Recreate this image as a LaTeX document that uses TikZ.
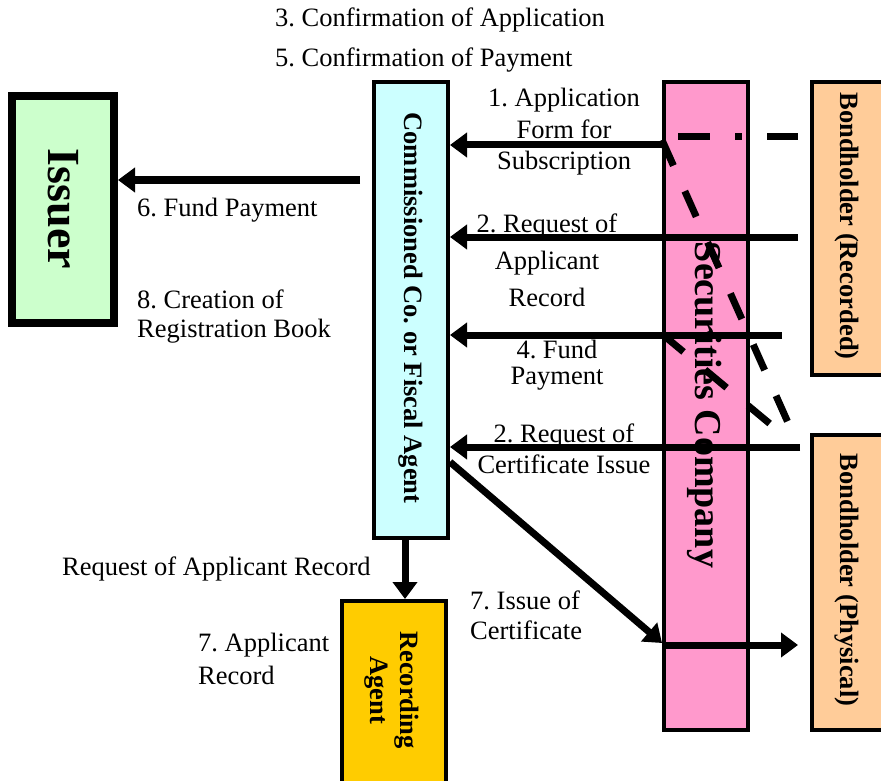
\documentclass[tikz,border=0pt]{standalone}
\usepackage{fontspec}
\setmainfont{Liberation Serif}
\frenchspacing
\usetikzlibrary{arrows.meta}
\definecolor{issuergreen}{HTML}{CCFFCC}
\definecolor{agentcyan}{HTML}{CCFFFF}
\definecolor{secpink}{HTML}{FF99CC}
\definecolor{holderpeach}{HTML}{FFCC99}
\definecolor{recgold}{HTML}{FFCC00}
\begin{document}
\begin{tikzpicture}[x=1pt,y=-1pt,
  box/.style={draw=black, line width=4pt, inner sep=0pt},
  flow/.style={line width=7pt, -{Triangle[length=17pt,width=24pt]}},
  dashdiag/.style={line width=7pt, dash pattern=on 28pt off 28pt},
  dashdot/.style={line width=7pt, dash pattern=on 32pt off 25pt on 7pt off 25pt},
  lab/.style={inner sep=0pt, font=\fontsize{26.5}{31}\selectfont},
  boxtext/.style={inner sep=0pt, rotate=-90, font=\bfseries\fontsize{26.5}{30}\selectfont}]
\useasboundingbox (0,0) rectangle (881,781);
\begin{scope}
\clip (0,0) rectangle (881,781);

% participants
\node[box, line width=8pt, fill=issuergreen, minimum width=102pt, minimum height=227pt] (issuer) at (63,209.5) {};
\node[box, fill=agentcyan, minimum width=74pt, minimum height=456pt] (comm) at (411,310) {};
\node[box, fill=secpink, minimum width=84pt, minimum height=648pt] (sec) at (706,406) {};
\node[box, fill=holderpeach, minimum width=96pt, minimum height=293pt] (bondR) at (860,228.5) {};
\node[box, fill=holderpeach, minimum width=96pt, minimum height=295pt] (bondP) at (860,582.5) {};
\node[box, fill=recgold, minimum width=104pt, minimum height=217pt] (rec) at (394,709.5) {};

\node[boxtext, font=\bfseries\fontsize{46}{50}\selectfont] (issuerT) at (63,209) {Issuer};
\node[boxtext] (commT) at (411,308) {Commissioned Co. or Fiscal Agent};
\node[boxtext, font=\bfseries\fontsize{38}{42}\selectfont] (secT) at (705,405) {Securities Company};
\node[boxtext] (bondRT) at (847,226) {Bondholder (Recorded)};
\node[boxtext] (bondPT) at (847,580) {Bondholder (Physical)};
\node[boxtext, align=center, font=\bfseries\fontsize{26.5}{30}\selectfont] (recT) at (392,690) {Recording\\Agent};

% dashed guide lines across the securities company
\draw[dashdot] ([xshift=16pt]sec.west |- 0,137) -- ([xshift=-12pt]bondR.west |- 0,137);
\draw[dashdiag] (sec.west |- 0,140) -- ([xshift=-12pt]bondP.west |- 0,445);
\draw[dashdiag] (sec.west |- 0,334) -- ([xshift=25pt]sec.east |- 0,428);

% flows
\draw[flow] ([xshift=-12pt]comm.west |- 0,180) -- (issuer.east |- 0,180);
\draw[flow] (sec.west |- 0,145) -- (comm.east |- 0,145);
\draw[flow] ([xshift=-12pt]bondR.west |- 0,237) -- (comm.east |- 0,237);
\draw[flow] ([xshift=-28pt]bondR.west |- 0,335) -- (comm.east |- 0,335);
\draw[flow] ([xshift=-10pt]bondP.west |- 0,447) -- (comm.east |- 0,447);
\draw[flow] (comm.south -| 405,0) -- (rec.north -| 405,0);
\draw[flow] (comm.east |- 0,462) -- (sec.west |- 0,643);
\draw[flow] (sec.west |- 0,645) -- ([xshift=-12pt]bondP.west |- 0,645);

% labels
\node[lab, anchor=west] (conf3) at (275,20) {3. Confirmation of Application};
\node[lab, anchor=west] (conf5) at (275,60) {5. Confirmation of Payment};
\node[lab, align=center, font=\fontsize{26.5}{31.5}\selectfont] (step1) at (564,132) {1. Application\\Form for\\Subscription};
\node[lab, align=center, font=\fontsize{26.5}{37}\selectfont] (step2a) at (547,260) {2. Request of\\Applicant\\Record};
\node[lab, align=center, font=\fontsize{26.5}{26}\selectfont] (step4) at (557,365) {4. Fund\\Payment};
\node[lab, align=center, font=\fontsize{26.5}{31}\selectfont] (step2b) at (564,449) {2. Request of\\Certificate Issue};
\node[lab, anchor=west] (step6) at (137,210) {6. Fund Payment};
\node[lab, anchor=west, align=left, font=\fontsize{26.5}{29}\selectfont] (step8) at (137,317) {8. Creation of\\Registration Book};
\node[lab, anchor=west] (reqrec) at (62,569) {Request of Applicant Record};
\node[lab, anchor=west, align=left, font=\fontsize{26.5}{33}\selectfont] (step7a) at (198,659) {7. Applicant\\Record};
\node[lab, anchor=west, align=left, font=\fontsize{26.5}{30}\selectfont] (step7b) at (470,615) {7. Issue of\\Certificate};
\end{scope}
\end{tikzpicture}
\end{document}
